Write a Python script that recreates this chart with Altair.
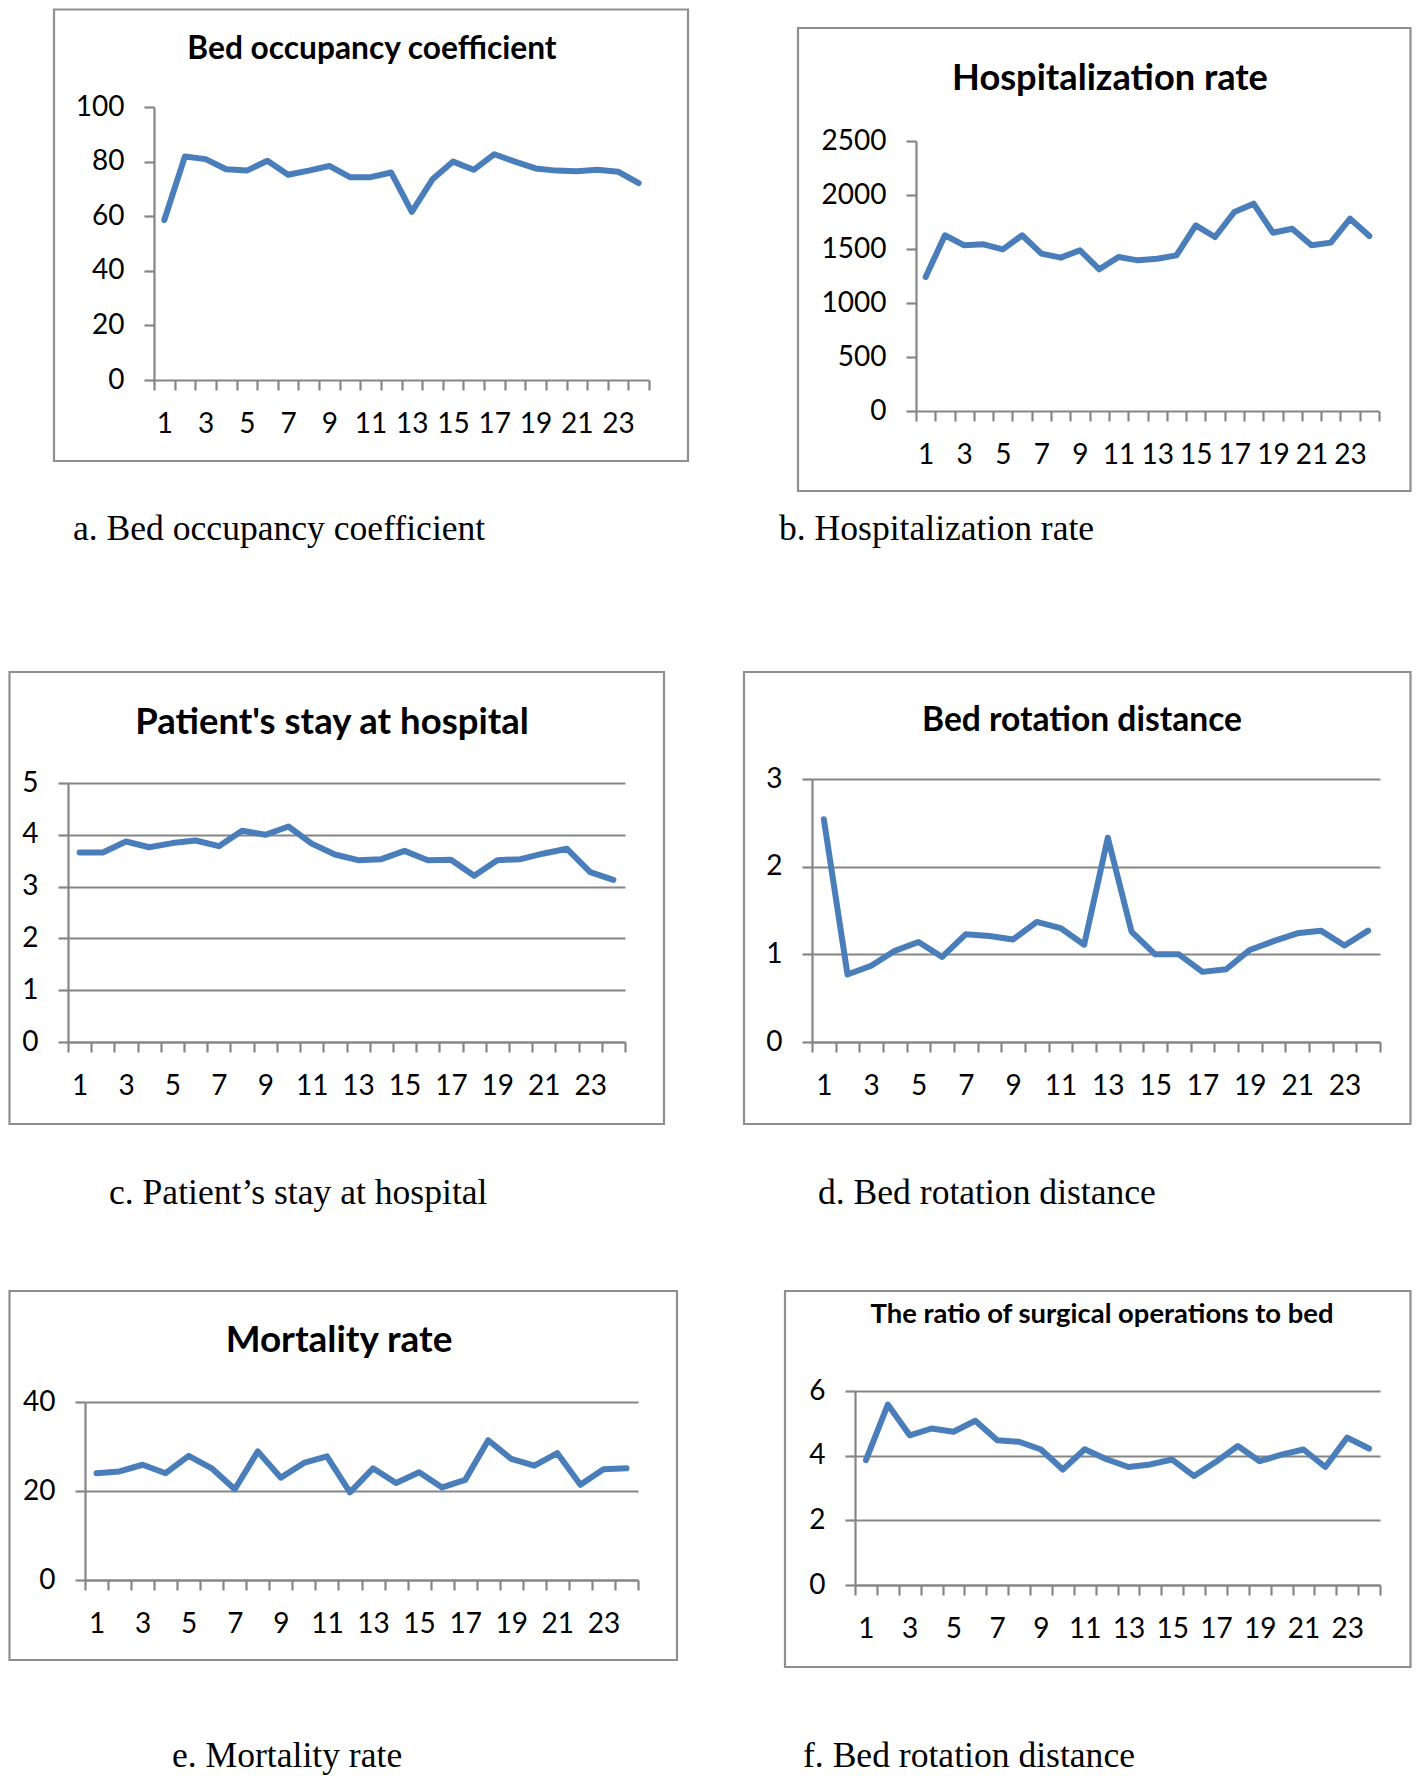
import altair as alt
import pandas as pd

# ---------------- data ----------------
periods = list(range(1, 25))
x_label_values = [1, 3, 5, 7, 9, 11, 13, 15, 17, 19, 21, 23]

bed_occupancy = [58.6, 81.9, 80.9, 77.2, 76.7, 80.3, 75.2, 76.7, 78.4, 74.3, 74.3, 76.0,
                 61.6, 73.5, 80.0, 77.0, 82.7, 80.0, 77.5, 76.7, 76.5, 77.0, 76.3, 72.1]
hospitalization = [1241, 1627, 1534, 1543, 1497, 1627, 1457, 1420, 1488, 1312, 1426, 1395,
                   1410, 1441, 1719, 1611, 1843, 1920, 1651, 1688, 1534, 1559, 1781, 1620]
stay = [3.66, 3.66, 3.87, 3.76, 3.84, 3.89, 3.78, 4.08, 4.00, 4.16, 3.83, 3.62,
        3.51, 3.53, 3.69, 3.51, 3.52, 3.21, 3.51, 3.53, 3.64, 3.73, 3.28, 3.13]
rotation = [2.54, 0.77, 0.87, 1.04, 1.14, 0.97, 1.23, 1.21, 1.17, 1.37, 1.30, 1.11,
            2.33, 1.26, 1.00, 1.00, 0.80, 0.83, 1.05, 1.15, 1.24, 1.27, 1.10, 1.27]
mortality = [24.0, 24.4, 25.9, 24.0, 27.9, 25.1, 20.4, 28.9, 23.0, 26.3, 27.8, 19.7,
             25.1, 21.8, 24.2, 20.8, 22.5, 31.4, 27.2, 25.7, 28.5, 21.4, 24.9, 25.1]
surgery_ratio = [3.86, 5.58, 4.63, 4.84, 4.74, 5.08, 4.48, 4.43, 4.19, 3.57, 4.20, 3.89,
                 3.65, 3.73, 3.88, 3.37, 3.81, 4.30, 3.83, 4.03, 4.19, 3.65, 4.56, 4.22]

y_ticks_a = [0, 20, 40, 60, 80, 100]
y_ticks_b = [0, 500, 1000, 1500, 2000, 2500]
y_ticks_c = [0, 1, 2, 3, 4, 5]
y_ticks_d = [0, 1, 2, 3]
y_ticks_e = [0, 20, 40]
y_ticks_f = [0, 2, 4, 6]

titles = ["Bed occupancy coefficient", "Hospitalization rate", "Patient's stay at hospital",
          "Bed rotation distance", "Mortality rate", "The ratio of surgical operations to bed"]
captions = ["a. Bed occupancy coefficient", "b. Hospitalization rate",
            "c. Patient\u2019s stay at hospital", "d. Bed rotation distance",
            "e. Mortality rate", "f. Bed rotation distance"]

# ---------------- style / layout ----------------
OFF = 8                 # page margin
W, H = 1404, 1769       # drawing size (fits the window inside the page margins)
BLUE = "#4A7EBB"
GRAY = "#868686"
BOX_GRAY = "#8f8f8f"
SANS = "Lato"
SERIF = "Liberation Serif"
CAPTION_SIZE = 35.6

# page-coordinate layout for each panel
layout = [
    dict(values=bed_occupancy, ticks=y_ticks_a, xl=154, xr=649, yt=107, yb=380, grid=False,
         tx=372, ty=59, ts=31.7, box=(54, 2, 688, 461), cx=73, cy=540),
    dict(values=hospitalization, ticks=y_ticks_b, xl=916, xr=1379, yt=141, yb=411, grid=False,
         tx=1110, ty=90, ts=36.2, box=(798, 28, 1419, 491), cx=779, cy=540),
    dict(values=stay, ticks=y_ticks_c, xl=68, xr=625, yt=783, yb=1042, grid=True,
         tx=332, ty=734, ts=36.5, box=(0, 672, 664, 1124), cx=109, cy=1204),
    dict(values=rotation, ticks=y_ticks_d, xl=812, xr=1380, yt=779, yb=1042, grid=True,
         tx=1082, ty=731, ts=33.6, box=(744, 672, 1419, 1124), cx=818, cy=1204),
    dict(values=mortality, ticks=y_ticks_e, xl=85, xr=638, yt=1402, yb=1580, grid=True,
         tx=339, ty=1352, ts=36.9, box=(0, 1291, 677, 1660), cx=172, cy=1767),
    dict(values=surgery_ratio, ticks=y_ticks_f, xl=855, xr=1380, yt=1391, yb=1585, grid=True,
         tx=1102, ty=1323, ts=27.4, box=(785, 1291, 1419, 1667), cx=803, cy=1767),
]


def line_panel(p):
    band = (p["xr"] - p["xl"]) / 24
    df = pd.DataFrame({"period": periods, "value": p["values"]})
    label_expr = (f"indexof({x_label_values}, datum.value + 0.5) >= 0 ? "
                  f"format(datum.value + 0.5, 'd') : ''")
    x_enc = alt.X(
        "period:Q",
        scale=alt.Scale(domain=[0.5, 24.5], range=[p["xl"] - OFF, p["xr"] - OFF],
                        nice=False, zero=False),
        axis=alt.Axis(orient="bottom", offset=(p["yb"] - OFF) - H,
                      values=[k + 0.5 for k in range(25)], labelExpr=label_expr,
                      labelOffset=band / 2, labelFlush=False, labelOverlap=False,
                      labelBound=False, tickSize=10, labelPadding=20, grid=False,
                      title=None),
    )
    y_enc = alt.Y(
        "value:Q",
        scale=alt.Scale(domain=[p["ticks"][0], p["ticks"][-1]],
                        range=[p["yb"] - OFF, p["yt"] - OFF], nice=False, zero=False),
        axis=alt.Axis(orient="left", offset=-(p["xl"] - OFF), values=p["ticks"],
                      format="d", grid=p["grid"], tickSize=10, labelPadding=20,
                      labelFlush=False, labelOverlap=False, title=None),
    )
    return alt.Chart(df).mark_line(color=BLUE, strokeWidth=6, strokeJoin="round",
                                   strokeCap="round").encode(x=x_enc, y=y_enc)


def text_mark(text, x, y, size, font, weight, align):
    return alt.Chart(alt.Data(values=[{"t": text}])).mark_text(
        align=align, baseline="alphabetic", font=font, fontSize=size,
        fontWeight=weight, color="black"
    ).encode(x=alt.value(x - OFF), y=alt.value(y - OFF), text="t:N")


def border(b):
    x1, y1, x2, y2 = b
    x1 = max(x1 - OFF, 1.5)
    y1 = max(y1 - OFF, 1.5)
    x2 = min(x2 - OFF, W - 1.5)
    y2 = min(y2 - OFF, H - 1.5)
    return alt.Chart(alt.Data(values=[{"k": 1}])).mark_rect(
        fill="transparent", stroke=BOX_GRAY, strokeWidth=2.2
    ).encode(x=alt.value(x1), x2=alt.value(x2), y=alt.value(y1), y2=alt.value(y2))


layers = []
for i, p in enumerate(layout):
    layers.append(border(p["box"]))
    layers.append(line_panel(p))
    layers.append(text_mark(titles[i], p["tx"], p["ty"], p["ts"], SANS, "bold", "center"))
    layers.append(text_mark(captions[i], p["cx"], p["cy"], CAPTION_SIZE, SERIF, "normal", "left"))

chart = (
    alt.layer(*layers)
    .resolve_scale(x="independent", y="independent")
    .resolve_axis(x="independent", y="independent")
    .properties(width=W, height=H, padding=0, autosize=alt.AutoSizeParams(type="none"),
                background="white")
    .configure_view(stroke=None)
    .configure_axis(domainColor=GRAY, domainWidth=2.2, tickColor=GRAY, tickWidth=2.2,
                    gridColor=GRAY, gridWidth=2, labelFont=SANS, labelFontSize=28,
                    labelColor="black")
)

chart.save("out.html", embed_options={"renderer": "svg", "actions": False})
